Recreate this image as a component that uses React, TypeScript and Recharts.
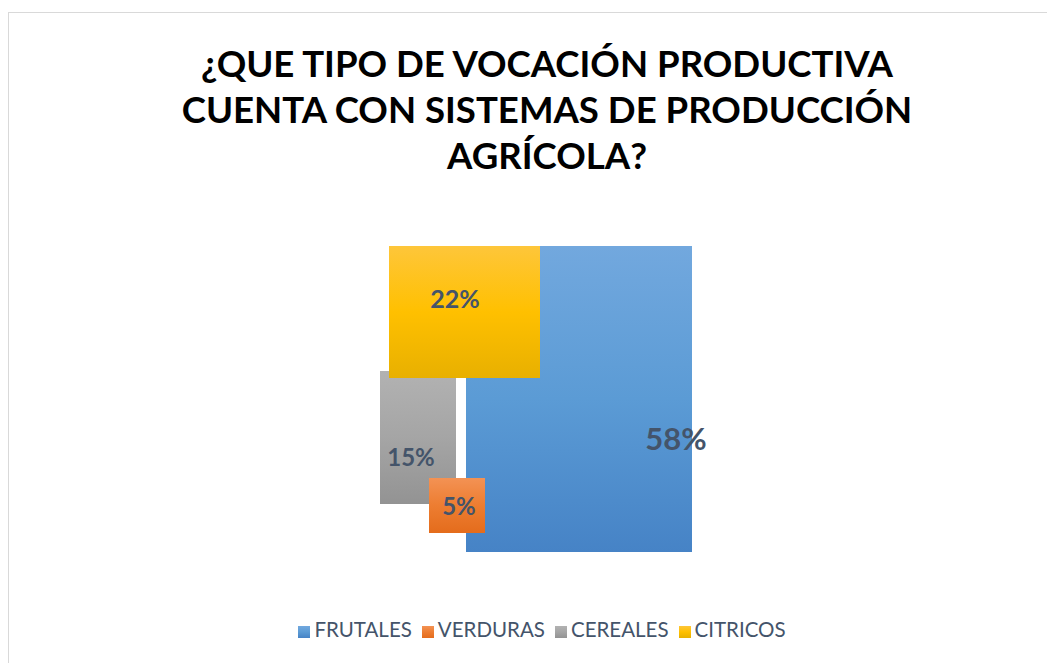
import React from "react";
import {
  ScatterChart,
  Scatter,
  XAxis,
  YAxis,
  Legend,
  ReferenceArea,
} from "recharts";

// ¿Qué tipo de vocación productiva? — cuadros superpuestos por categoría
const categories = ["FRUTALES", "VERDURAS", "CEREALES", "CITRICOS"];
const shares = [58, 5, 15, 22];

// gradiente (claro arriba, oscuro abajo) de cada categoría
const topColors = ["#72a8de", "#f39254", "#b2b2b2", "#fec63a"];
const midColors = ["#5b9bd5", "#ed7d31", "#a5a5a5", "#ffc000"];
const bottomColors = ["#4683c6", "#e46c1c", "#939393", "#e8b000"];

// colocación de los cuadros en el área del gráfico: [x1, x2, y1, y2]
const boxes = [
  [86, 312, 0, 306],
  [49, 105, 232, 287],
  [0, 76, 125, 258],
  [9, 160, 0, 132],
];
// punto donde va la etiqueta de cada cuadro, y su tamaño
const labelAt = [
  [296, 192],
  [79, 259],
  [31, 210],
  [75, 52],
];
const labelSize = [31, 24, 24, 25];
const drawOrder = [0, 2, 3, 1];

const titleLines = [
  "¿QUE TIPO DE VOCACIÓN PRODUCTIVA",
  "CUENTA CON SISTEMAS DE PRODUCCIÓN",
  "AGRÍCOLA?",
];

const FONT = "Lato, 'Open Sans', sans-serif";

export default function App() {
  return (
    <div style={{ position: "relative", width: 1047, height: 655, overflow: "hidden" }}>
      <div
        style={{
          position: "absolute",
          left: 0,
          top: 4,
          width: 1100,
          height: 700,
          borderTop: "1px solid #d9d9d9",
          borderLeft: "1px solid #d9d9d9",
          background: "#fff",
        }}
      >
        <div
          style={{
            position: "absolute",
            left: 0,
            width: 1076,
            top: 27,
            textAlign: "center",
            fontFamily: FONT,
            fontWeight: 700,
            fontSize: 36.6,
            lineHeight: "46px",
            color: "#000",
          }}
        >
          {titleLines.map((t) => (
            <div key={t}>{t}</div>
          ))}
        </div>
        <div style={{ position: "absolute", left: 0, top: 0 }}>
          <ScatterChart
            width={1046}
            height={648}
            margin={{ top: 233, left: 371, right: 363, bottom: 109 }}
          >
            <defs>
              {categories.map((c, i) => (
                <linearGradient key={c} id={`g${i}`} x1="0" y1="0" x2="0" y2="1">
                  <stop offset="0%" stopColor={topColors[i]} />
                  <stop offset="50%" stopColor={midColors[i]} />
                  <stop offset="100%" stopColor={bottomColors[i]} />
                </linearGradient>
              ))}
            </defs>
            <XAxis type="number" dataKey="x" domain={[0, 312]} hide />
            <YAxis type="number" dataKey="y" domain={[0, 306]} reversed hide />
            {drawOrder.map((i) => (
              <ReferenceArea
                key={categories[i]}
                x1={boxes[i][0]}
                x2={boxes[i][1]}
                y1={boxes[i][2]}
                y2={boxes[i][3]}
                fill={`url(#g${i})`}
                fillOpacity={1}
                stroke="none"
                ifOverflow="visible"
              />
            ))}
            {categories.map((c, i) => (
              <Scatter
                key={c}
                name={c}
                data={[{ x: labelAt[i][0], y: labelAt[i][1], v: shares[i] }]}
                fill={`url(#g${i})`}
                legendType="square"
                isAnimationActive={false}
                shape={(p: any) => (
                  <text
                    x={p.cx}
                    y={p.cy}
                    textAnchor="middle"
                    dominantBaseline="central"
                    fontFamily={FONT}
                    fontWeight={700}
                    fontSize={labelSize[i]}
                    fill="#44546a"
                  >
                    {`${p.payload.v}%`}
                  </text>
                )}
              />
            ))}
            <Legend
              verticalAlign="middle"
              align="center"
              iconSize={12}
              itemSorter={(item: any) => categories.indexOf(item.value)}
              wrapperStyle={{ top: 604, left: 0, width: 1076, fontFamily: FONT, fontSize: 20.5 }}
              formatter={(v) => <span style={{ color: "#44546a" }}>{v}</span>}
            />
          </ScatterChart>
        </div>
      </div>
    </div>
  );
}
